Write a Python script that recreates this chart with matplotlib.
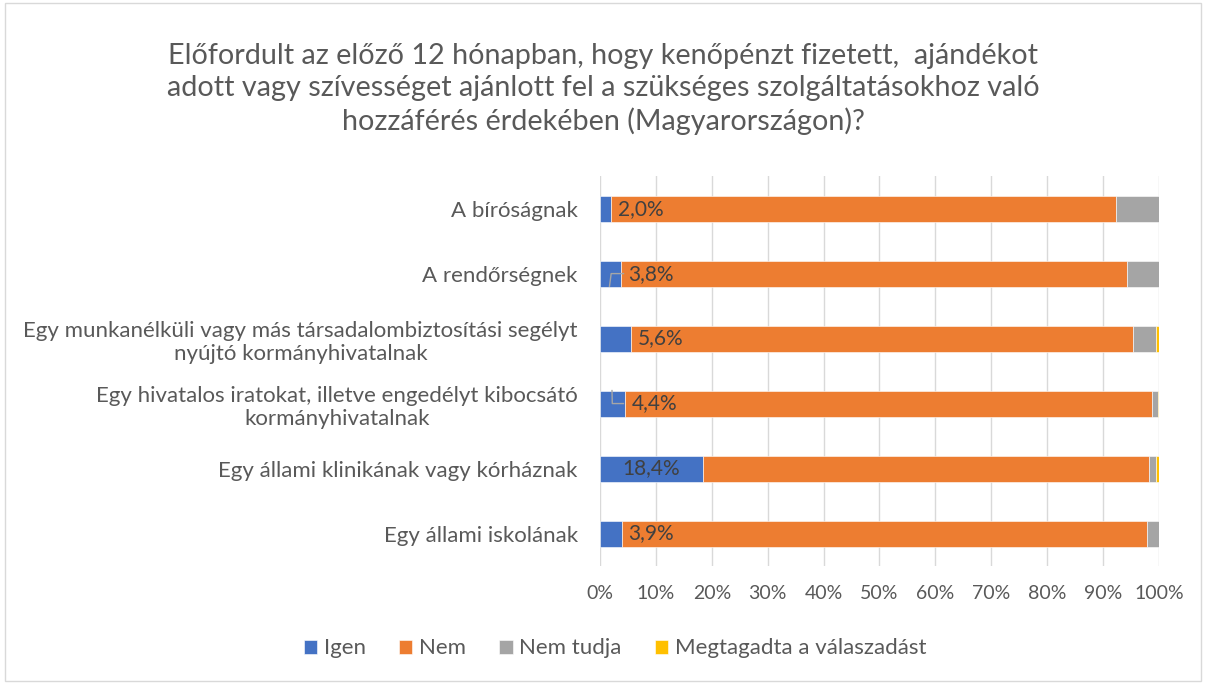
import matplotlib.pyplot as plt
import numpy as np
from matplotlib.patches import Rectangle

categories = [
    'A bíróságnak',
    'A rendőrségnek',
    'Egy munkanélküli vagy más társadalombiztosítási segélyt\nnyújtó kormányhivatalnak',
    'Egy hivatalos iratokat, illetve engedélyt kibocsátó\nkormányhivatalnak',
    'Egy állami klinikának vagy kórháznak',
    'Egy állami iskolának',
]
igen = [2.0, 3.8, 5.6, 4.4, 18.4, 3.9]
nem = [90.4, 90.5, 89.8, 94.4, 79.9, 94.0]
nem_tudja = [7.6, 5.7, 4.1, 1.0, 1.2, 2.1]
megtagadta = [0.0, 0.0, 0.5, 0.2, 0.5, 0.0]

series = [('Igen', igen, '#4472C4'),
          ('Nem', nem, '#ED7D31'),
          ('Nem tudja', nem_tudja, '#A5A5A5'),
          ('Megtagadta a válaszadást', megtagadta, '#FFC000')]

plt.rcParams['font.family'] = ['Lato', 'DejaVu Sans']
txt = '#595959'

fig = plt.figure(figsize=(12.06, 6.84), dpi=100)
fig.patches.append(Rectangle((0.004, 0.004), 0.992, 0.992, transform=fig.transFigure,
                             fill=False, edgecolor='#D9D9D9', linewidth=1))
ax = fig.add_axes([0.4975, 0.1725, 0.4635, 0.570])

y = np.arange(len(categories))
left = np.zeros(len(categories))
for name, vals, col in series:
    vals = np.array(vals)
    ax.barh(y, vals, left=left, height=0.4, color=col, label=name,
            edgecolor='white', linewidth=0.4, zorder=3)
    left += vals

# data labels for "Igen"
for i, v in enumerate(igen):
    lab = f'{v:.1f}'.replace('.', ',') + '%'
    if v > 10:
        ax.text(v / 2, i, lab, va='center', ha='center', fontsize=15, color='#404040', zorder=4)
    else:
        ax.text(v + 1.2, i, lab, va='center', ha='left', fontsize=15, color='#404040', zorder=4)

# small leader lines
ax.plot([1.7, 2.0, 4.2], [1.195, 1.0, 1.0], color='#A6A6A6', lw=1, zorder=4)
ax.plot([2.15, 2.2, 4.2], [2.8, 3.0, 3.0], color='#A6A6A6', lw=1, zorder=4)

ax.set_xlim(0, 100)
ax.set_ylim(len(categories) - 0.5, -0.5)
ax.set_yticks(y)
ax.set_yticklabels(categories, fontsize=16, color=txt, multialignment='center')
ax.set_xticks(np.arange(0, 101, 10))
ax.set_xticklabels([f'{t}%' for t in range(0, 101, 10)], fontsize=14, color=txt)
ax.tick_params(axis='both', length=0)
ax.tick_params(axis='y', pad=16)
ax.tick_params(axis='x', pad=14)
ax.grid(axis='x', color='#D9D9D9', linewidth=1, zorder=0)
for s in ax.spines.values():
    s.set_visible(False)

fig.text(0.5, 0.87,
         'Előfordult az előző 12 hónapban, hogy kenőpénzt fizetett,  ajándékot\n'
         'adott vagy szívességet ajánlott fel a szükséges szolgáltatásokhoz való\n'
         'hozzáférés érdekében (Magyarorszá­gon)?'.replace('\u00ad', ''),
         ha='center', va='center', fontsize=20.7, color=txt, linespacing=1.3)

fig.legend(loc='center', bbox_to_anchor=(0.51, 0.052), ncol=4, frameon=False,
           fontsize=16, handlelength=0.6, handleheight=0.6, handletextpad=0.3,
           columnspacing=1.5, labelcolor=txt)

fig.savefig('out.png', dpi=100)
